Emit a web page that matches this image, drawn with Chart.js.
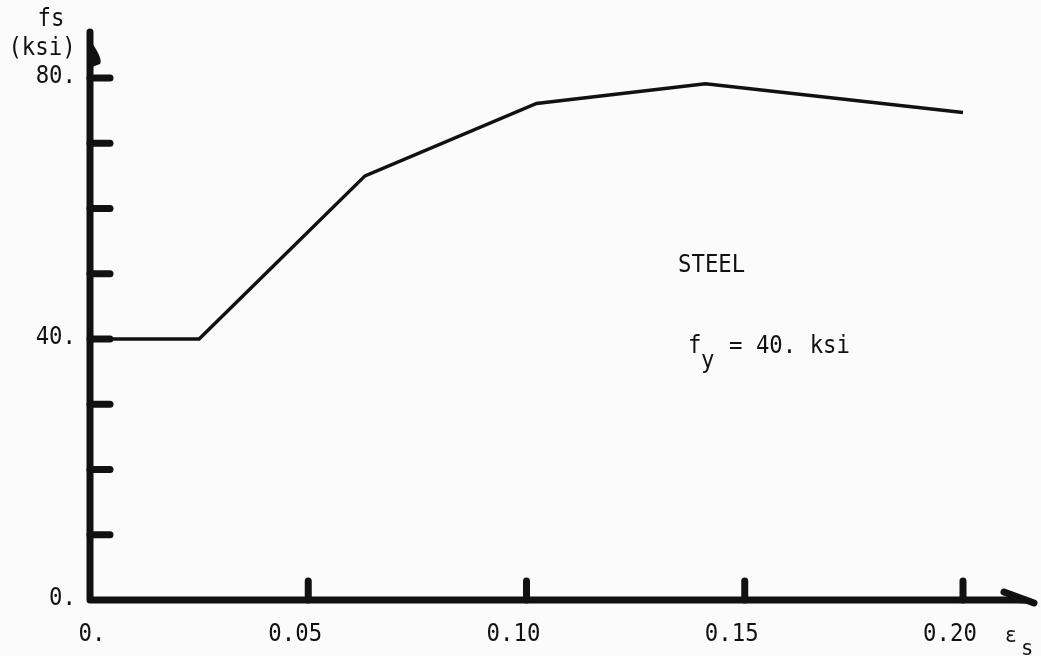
<!DOCTYPE html>
<html>
<head>
<meta charset="utf-8">
<script src="https://cdn.jsdelivr.net/npm/chart.js@4.4.1/dist/chart.umd.min.js"></script>
<style>
  html, body { margin: 0; padding: 0; background: #fbfbfb; }
  #wrap { width: 1041px; height: 656px; position: relative; }
</style>
</head>
<body>
<div id="wrap"><canvas id="c" width="1041" height="656"></canvas></div>
<script>
// Steel stress-strain curve, fy = 40 ksi
const strain = [0, 0.025, 0.063, 0.1023, 0.141, 0.20];
const stress = [40, 40, 65, 76.1, 79.1, 74.7];

const xTicks = [0, 0.05, 0.10, 0.15, 0.20];
const xTickLabels = ['0.', '0.05', '0.10', '0.15', '0.20'];
const yTicks = [0, 10, 20, 30, 40, 50, 60, 70, 80];
const yTickLabels = { 0: '0.', 40: '40.', 80: '80.' };

const INK = '#111';
const FONT = '"DejaVu Sans Mono", monospace';
const SQUEEZE = 0.93;   // slightly condensed lettering

// draw text horizontally condensed, anchored by align at (x, y)
function label(ctx, text, x, y, size, align, baseline) {
  ctx.save();
  ctx.font = size + 'px ' + FONT;
  ctx.textBaseline = baseline || 'middle';
  ctx.textAlign = align || 'left';
  ctx.translate(x, y);
  ctx.scale(SQUEEZE, 1);
  ctx.fillText(text, 0, 0);
  ctx.restore();
}

const axesPlugin = {
  id: 'axesPlugin',
  beforeDraw(chart) {
    const ctx = chart.ctx;
    ctx.save();
    ctx.fillStyle = '#fbfbfb';
    ctx.fillRect(0, 0, chart.width, chart.height);
    ctx.restore();
  },
  afterDraw(chart) {
    const ctx = chart.ctx;
    const xs = chart.scales.x, ys = chart.scales.y;
    const x0 = xs.getPixelForValue(0);
    const y0 = ys.getPixelForValue(0);
    const top = chart.chartArea.top;
    const right = chart.chartArea.right;
    ctx.save();
    ctx.strokeStyle = INK;
    ctx.fillStyle = INK;
    ctx.lineCap = 'round';
    ctx.lineJoin = 'round';

    // axis lines
    ctx.lineWidth = 7;
    ctx.beginPath();
    ctx.moveTo(x0, top);
    ctx.lineTo(x0, y0);
    ctx.lineTo(right - 6, y0);
    ctx.stroke();

    // arrow hooks at the axis ends
    ctx.beginPath();
    ctx.moveTo(x0 + 2, top + 11);
    ctx.quadraticCurveTo(x0 + 13, top + 27, x0 + 10, top + 32);
    ctx.lineTo(x0 + 2, top + 35);
    ctx.closePath();
    ctx.fill();
    ctx.lineWidth = 7;
    ctx.beginPath();
    ctx.moveTo(right - 26, y0 - 8);
    ctx.lineTo(right + 4, y0 + 3);
    ctx.stroke();
    ctx.beginPath();
    ctx.moveTo(right - 26, y0 - 9);
    ctx.lineTo(right + 6, y0 + 4);
    ctx.lineTo(right - 14, y0 + 3);
    ctx.closePath();
    ctx.fill();

    // tick marks on y axis (inward)
    ctx.lineWidth = 7;
    yTicks.forEach(v => {
      if (v === 0) return;
      const py = ys.getPixelForValue(v);
      ctx.beginPath();
      ctx.moveTo(x0, py);
      ctx.lineTo(x0 + 20, py);
      ctx.stroke();
    });
    // tick marks on x axis (upward)
    xTicks.forEach(v => {
      if (v === 0) return;
      const px = xs.getPixelForValue(v);
      ctx.beginPath();
      ctx.moveTo(px, y0);
      ctx.lineTo(px, y0 - 19);
      ctx.stroke();
    });
    ctx.restore();

    ctx.save();
    ctx.fillStyle = INK;
    // tick labels
    xTicks.forEach((v, i) => {
      const px = xs.getPixelForValue(v);
      const shift = i === 0 ? 2 : -13;
      label(ctx, xTickLabels[i], px + shift, 635, 24, 'center');
    });
    yTicks.forEach(v => {
      if (!(v in yTickLabels)) return;
      const py = ys.getPixelForValue(v);
      label(ctx, yTickLabels[v], 76, py - 1, 24, 'right');
    });

    // axis titles
    label(ctx, 'fs', 51, 20, 24, 'center');
    label(ctx, '(ksi)', 42, 49, 24, 'center');
    label(ctx, '\u03b5', 1005, 637, 21, 'left');
    label(ctx, 's', 1021, 649, 22, 'left');

    // annotations
    label(ctx, 'STEEL', 678, 266, 24, 'left');
    label(ctx, 'f', 688, 347, 24, 'left');
    label(ctx, 'y', 701, 362, 24, 'left');
    label(ctx, '= 40. ksi', 729, 347, 24, 'left');
    ctx.restore();
  }
};

new Chart(document.getElementById('c'), {
  type: 'scatter',
  data: {
    datasets: [{
      data: strain.map((s, i) => ({ x: s, y: stress[i] })),
      showLine: true,
      borderColor: INK,
      borderWidth: 3.5,
      pointRadius: 0,
      tension: 0,
      clip: false
    }]
  },
  options: {
    responsive: false,
    animation: false,
    devicePixelRatio: 1,
    layout: { autoPadding: false, padding: { top: 32, right: 11, left: 0, bottom: 0 } },
    plugins: { legend: { display: false }, tooltip: { enabled: false } },
    scales: {
      x: {
        type: 'linear',
        min: 0,
        max: 0.21535,
        grid: { display: false },
        border: { display: false },
        afterBuildTicks: s => { s.ticks = xTicks.map(v => ({ value: v })); },
        afterFit: s => { s.height = 56; },
        ticks: { display: false }
      },
      y: {
        type: 'linear',
        min: 0,
        max: 87.05,
        grid: { display: false },
        border: { display: false },
        afterBuildTicks: s => { s.ticks = yTicks.map(v => ({ value: v })); },
        afterFit: s => { s.width = 90; },
        ticks: { display: false }
      }
    }
  },
  plugins: [axesPlugin]
});
</script>
</body>
</html>
